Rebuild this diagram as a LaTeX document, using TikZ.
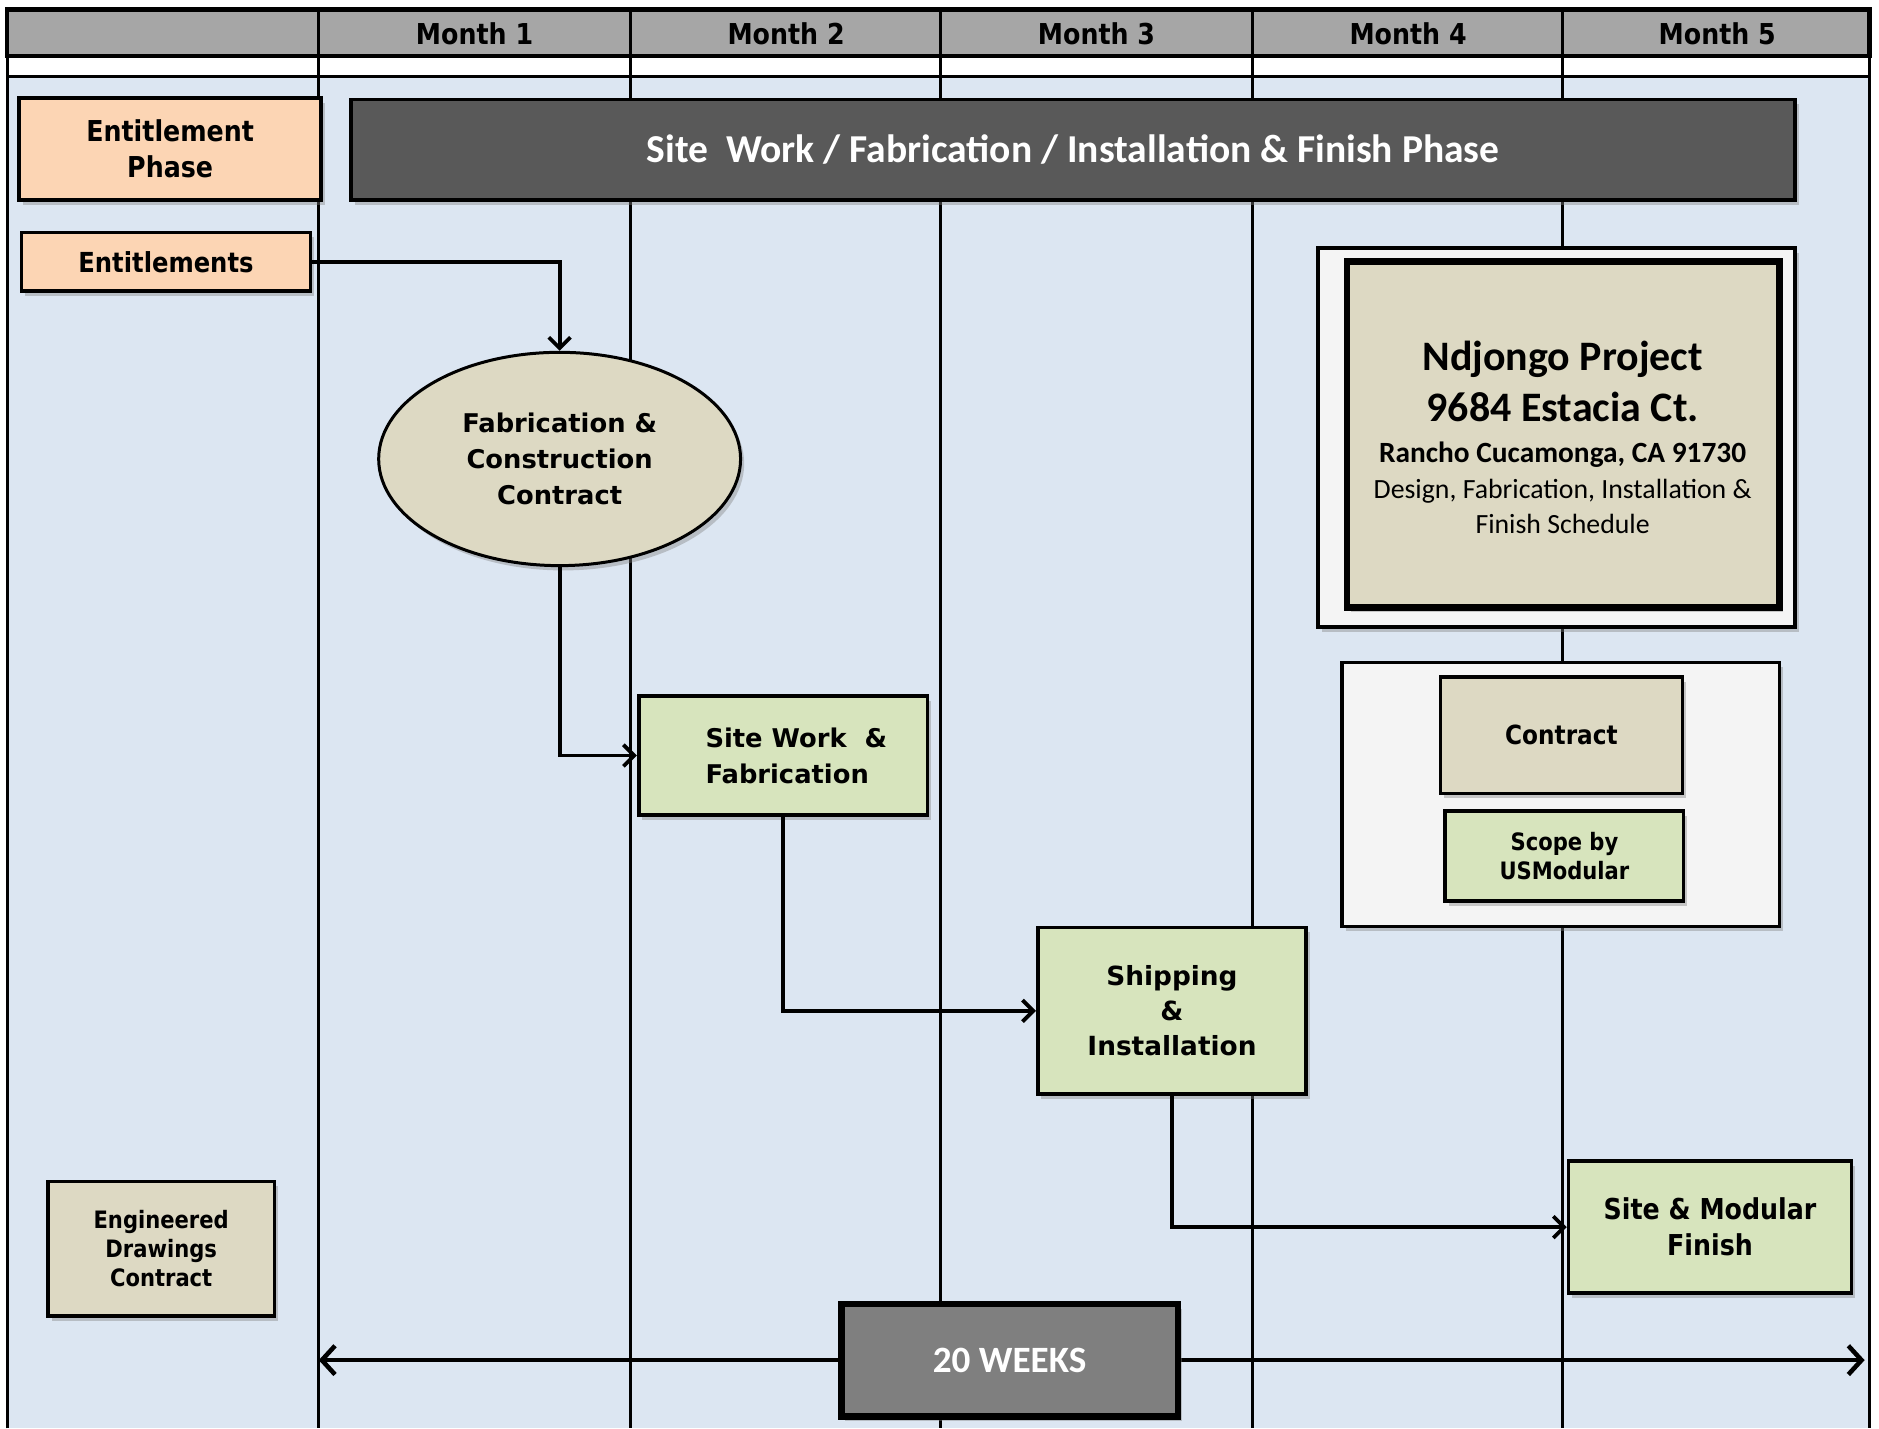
\documentclass[tikz,border=0pt]{standalone}
\usepackage{fontspec}
\setmainfont{DejaVu Sans}
\newfontfamily\tah{DejaVu Sans}[FakeStretch=0.88]
\newfontfamily\calb{Carlito}
\usetikzlibrary{arrows.meta,shapes.geometric,shadows}
\definecolor{hdrc}{HTML}{A6A6A6}
\definecolor{bodyc}{HTML}{DCE6F2}
\definecolor{peach}{HTML}{FCD5B4}
\definecolor{tan}{HTML}{DDD9C3}
\definecolor{lgreen}{HTML}{D7E4BD}
\definecolor{darkbar}{HTML}{595959}
\definecolor{wkgray}{HTML}{7F7F7F}
\definecolor{offwhite}{HTML}{F4F4F4}
\begin{document}
\begin{tikzpicture}[x=1pt,y=-1pt,
  shd/.style={drop shadow={shadow xshift=3pt,shadow yshift=-4pt,opacity=0.4}},
  boxs/.style={draw=black,line width=3pt,inner sep=0pt,align=center,shd},
  hdrtext/.style={font=\tah\bfseries\fontsize{24pt}{28pt}\selectfont},
  grid/.style={line width=2.2pt},
  conn/.style={line width=3.2pt,-{Straight Barb[length=9pt,width=18pt]}},
  wkarrow/.style={line width=3.8pt,-{Straight Barb[length=11pt,width=24pt]}},
  vfont/.style={font=\bfseries\fontsize{21.5pt}{30pt}\selectfont},
  tfont/.style={font=\tah\bfseries\fontsize{24pt}{30pt}\selectfont}
]
\useasboundingbox (0,0) rectangle (1568,1192);
\fill[white] (0,0) rectangle (1568,1192);
% body
\fill[bodyc] (6,64) rectangle (1560,1192);
\draw[grid] (6,1192) -- (6,47) (6,64) -- (1560,64) (1560,47) -- (1560,1192);
% header
\fill[hdrc] (6,8) rectangle (1560,47);
\foreach \x in {266,526,785,1045,1304} \draw[grid] (\x,8) -- (\x,1192);
\draw[line width=3.5pt] (6,8) rectangle (1560,47);
\node[hdrtext] (m1) at (396,28) {Month 1};
\node[hdrtext] (m2) at (656,28) {Month 2};
\node[hdrtext] (m3) at (915,28) {Month 3};
\node[hdrtext] (m4) at (1175,28) {Month 4};
\node[hdrtext] (m5) at (1433,28) {Month 5};

% phase boxes
\node[boxs,fill=peach,minimum width=252pt,minimum height=85pt,tfont] (ephase) at (142,124.5) {Entitlement\\Phase};
\node[boxs,fill=darkbar,text=white,minimum width=1205pt,minimum height=84pt,font=\calb\bfseries\fontsize{33pt}{38pt}\selectfont] (sbar) at (895.5,125) {Site\ \ Work / Fabrication / Installation \& Finish Phase};
\node[boxs,fill=peach,minimum width=241pt,minimum height=49pt,font=\tah\bfseries\fontsize{23pt}{28pt}\selectfont] (ent) at (138.5,218.5) {Entitlements};

% flow
\node[draw=black,line width=2.5pt,ellipse,fill=tan,inner sep=0pt,minimum width=302pt,minimum height=178pt,align=center,shd,vfont] (fcc) at (467,383) {Fabrication \&\\Construction\\Contract};
\node[boxs,fill=lgreen,minimum width=241pt,minimum height=99pt,vfont,align=left] (sw) at (653.5,630.5) {\hspace*{22pt}Site Work\ \ \&\\\hspace*{22pt}Fabrication};
\node[boxs,fill=lgreen,minimum width=224pt,minimum height=139pt,font=\bfseries\fontsize{22pt}{29.5pt}\selectfont] (ship) at (978,843.5) {Shipping\\\&\\Installation};
\node[boxs,fill=lgreen,minimum width=236pt,minimum height=110pt,tfont] (smf) at (1427,1024) {Site \& Modular\\Finish};
\node[boxs,fill=tan,minimum width=189pt,minimum height=112pt,font=\tah\bfseries\fontsize{20pt}{24.5pt}\selectfont] (eng) at (134.5,1042) {Engineered\\Drawings\\Contract};

% project info
\node[draw=black,line width=3pt,fill=offwhite,minimum width=398pt,minimum height=316pt,inner sep=0pt,shd] (pout) at (1299,365) {};
\node[draw=black,line width=5.5pt,fill=tan,minimum width=361pt,minimum height=289pt,inner sep=0pt,shd] (pin) at (1304.5,362.5) {};
\node[anchor=base,font=\calb\bfseries\fontsize{35pt}{40pt}\selectfont] (t1) at (1304,309) {Ndjongo Project};
\node[anchor=base,font=\calb\bfseries\fontsize{35pt}{40pt}\selectfont] (t2) at (1304,352) {9684 Estacia Ct.};
\node[anchor=base,font=\calb\bfseries\fontsize{24.5pt}{28pt}\selectfont] (t3) at (1304,386) {Rancho Cucamonga, CA 91730};
\node[anchor=base,font=\calb\fontsize{23.2pt}{27pt}\selectfont] (t4) at (1304,416) {Design, Fabrication, Installation \&};
\node[anchor=base,font=\calb\fontsize{23.2pt}{27pt}\selectfont] (t5) at (1304,445) {Finish Schedule};

% legend
\node[draw=black,line width=3pt,fill=offwhite,minimum width=365pt,minimum height=220pt,inner sep=0pt,shd] (lout) at (1302.5,663) {};
\node[boxs,fill=tan,minimum width=202pt,minimum height=97pt,font=\tah\bfseries\fontsize{22pt}{28pt}\selectfont] (lcon) at (1303,613.5) {Contract};
\node[boxs,fill=lgreen,minimum width=199pt,minimum height=75pt,font=\tah\bfseries\fontsize{20pt}{24pt}\selectfont] (lscope) at (1305.5,714.5) {Scope by\\USModular};

% 20 weeks
\coordinate (lt) at (266,1135);
\coordinate (rt) at (1556,1135);
\draw[wkarrow] (702,1135) -- (lt);
\draw[wkarrow] (983,1135) -- (rt);
\node[draw=black,line width=5.5pt,fill=wkgray,text=white,minimum width=281pt,minimum height=94pt,inner sep=0pt,shd,font=\calb\bfseries\fontsize{31pt}{36pt}\selectfont] (wk) at (842.5,1135) {20 WEEKS};

% connectors
\draw[conn] (ent.east) -| (fcc.north);
\draw[conn] (fcc.south) |- (sw.west);
\draw[conn] (sw.south) |- (ship.west);
\draw[conn] (ship.south) |- (smf.west);
\end{tikzpicture}
\end{document}
